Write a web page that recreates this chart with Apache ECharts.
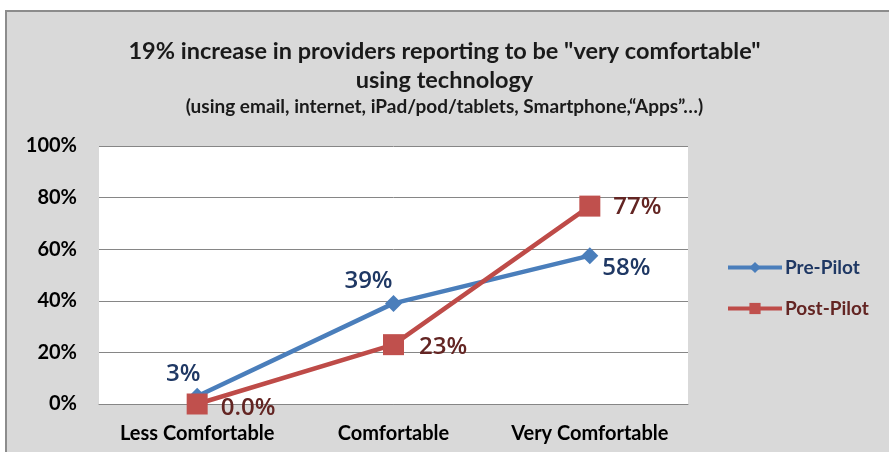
<!DOCTYPE html>
<html><head><meta charset="utf-8">
<script src="https://cdn.jsdelivr.net/npm/echarts@6/dist/echarts.min.js"></script>
<style>html,body{margin:0;padding:0;background:#fff}#c{width:889px;height:452px}</style>
</head><body><div id="c"></div>
<script>
const categories = ['Less Comfortable', 'Comfortable', 'Very Comfortable'];
const prePilot = [3, 39, 57.5];
const postPilot = [0, 23, 76.7];
const preLabels = ['3%', '39%', '58%'];
const postLabels = ['0.0%', '23%', '77%'];
const yTicks = [0, 20, 40, 60, 80, 100];

const font = 'Lato, "Open Sans", sans-serif';
const lblFont = '"Open Sans", Lato, sans-serif';
const chart = echarts.init(document.getElementById('c'), null, {renderer: 'canvas'});
const preLabelCfg = [
  {position: 'top', offset: [-14, 2]},
  {position: 'top', offset: [-25, 2]},
  {position: 'right', offset: [0, 13]}
];
const postLabelCfg = [
  {offset: [0, 4]},
  {offset: [2, 2]},
  {offset: [0, 1]}
];
chart.setOption({
  backgroundColor: '#fff',
  graphic: [{type: 'rect', shape: {x: 6, y: 11, width: 900, height: 460},
    style: {fill: '#d9d9d9', stroke: '#8c8c8c', lineWidth: 2}, z: -10}],
  title: [
    {text: '19% increase in providers reporting to be "very comfortable"\nusing technology', left: 'center', top: 32,
     textStyle: {fontFamily: font, fontSize: 23.5, fontWeight: 'bold', color: '#1a1a1a', lineHeight: 29}},
    {text: '(using email, internet, iPad/pod/tablets, Smartphone,\u201cApps\u201d\u2026)', left: 'center', top: 92,
     textStyle: {fontFamily: font, fontSize: 19, fontWeight: 'bold', color: '#1a1a1a'}}
  ],
  grid: {left: 99, right: 201, top: 146, bottom: 48, containLabel: false, show: true, backgroundColor: '#fff', borderWidth: 0},
  legend: {orient: 'vertical', left: 726, top: 258, padding: 0, itemGap: 22, itemWidth: 54, itemHeight: 14,
    lineStyle: {width: 4},
    textStyle: {fontFamily: font, fontSize: 19, fontWeight: 'bold', padding: [0, 0, 0, -2]},
    data: [{name: 'Pre-Pilot', textStyle: {color: '#1f3864'}}, {name: 'Post-Pilot', textStyle: {color: '#632523'}}]},
  xAxis: {type: 'category', data: categories, boundaryGap: true,
    axisLine: {lineStyle: {color: '#868686'}}, axisTick: {show: false},
    axisLabel: {interval: 0, hideOverlap: false, fontFamily: font, fontSize: 20, fontWeight: 'bold', color: '#000', margin: 20}},
  yAxis: {type: 'value', min: 0, max: 100, interval: 20,
    axisLabel: {fontFamily: font, fontSize: 20, fontWeight: 'bold', color: '#000', margin: 22,
      formatter: v => yTicks.includes(v) ? v + '%' : ''},
    splitLine: {lineStyle: {color: '#868686', width: 1}}, axisLine: {show: false}, axisTick: {show: false}},
  series: [
    {name: 'Pre-Pilot', type: 'line', data: prePilot.map((v, i) => ({value: v, label: preLabelCfg[i]})),
      symbol: 'diamond', symbolSize: 17, color: '#4a7ebb', lineStyle: {width: 4.5, color: '#4a7ebb'},
      label: {show: true, fontFamily: lblFont, fontSize: 24, fontWeight: 600, color: '#1f3864', distance: 4,
        formatter: p => preLabels[p.dataIndex]}},
    {name: 'Post-Pilot', type: 'line', data: postPilot.map((v, i) => ({value: v, label: postLabelCfg[i]})),
      symbol: 'rect', symbolSize: 21,
      color: '#c0504d', lineStyle: {width: 4.5, color: '#be4b48'},
      label: {show: true, position: 'right', fontFamily: lblFont, fontSize: 24, fontWeight: 600, color: '#632523', distance: 13,
        formatter: p => postLabels[p.dataIndex]}, z: 3}
  ]
});
</script></body></html>
